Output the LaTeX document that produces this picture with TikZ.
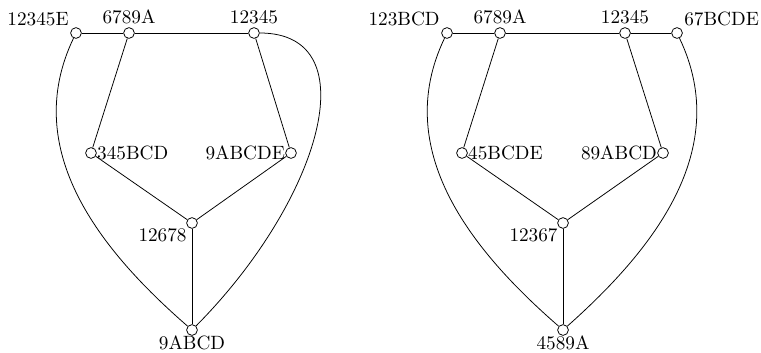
\documentclass[tikz,border=0pt]{standalone}
\usetikzlibrary{positioning}

\begin{document}
\begin{tikzpicture}[x=0.52pt, y=0.52pt, every label/.style={inner sep=1.5pt}]
    \tikzstyle{vertex}=[circle, draw, fill=white, inner sep=0pt, minimum size=5.6pt]
    \useasboundingbox (0,0) rectangle (761,352);
    % left graph
    \node[vertex, label=above left:12345E] (l1) at (76,319) {};
    \node[vertex, label=above:6789A] (l2) at (129,319) {};
    \node[vertex, label=above:12345] (l3) at (254,319) {};
    \node[vertex, label={[inner sep=0pt]right:345BCD}] (l4) at (91,199) {};
    \node[vertex, label={[inner sep=0pt]left:9ABCDE}] (l5) at (291,199) {};
    \node[vertex, label={[inner sep=0.5pt]below left:12678}] (l6) at (192,129) {};
    \node[vertex, label={[inner sep=0pt]below:9ABCD}] (l7) at (192,22) {};
    \draw (l1) -- (l2);
    \draw (l2) -- (l3);
    \draw (l2) -- (l4);
    \draw (l3) -- (l5);
    \draw (l4) -- (l6);
    \draw (l5) -- (l6);
    \draw (l6) -- (l7);
    \draw (l1) .. controls (20,202) and (100,102) .. (l7);
    \draw (l3) .. controls (370,319) and (320,151) .. (l7);
    % right graph
    \node[vertex, label=above left:123BCD] (r1) at (447,319) {};
    \node[vertex, label=above:6789A] (r2) at (500,319) {};
    \node[vertex, label=above:12345] (r3) at (625,319) {};
    \node[vertex, label=above right:67BCDE] (r4) at (677,319) {};
    \node[vertex, label={[inner sep=0pt]right:45BCDE}] (r5) at (462,199) {};
    \node[vertex, label={[inner sep=0pt]left:89ABCD}] (r6) at (663,199) {};
    \node[vertex, label={[inner sep=0.5pt]below left:12367}] (r7) at (563,129) {};
    \node[vertex, label={[inner sep=0pt]below:4589A}] (r8) at (563,22) {};
    \draw (r1) -- (r2);
    \draw (r2) -- (r3);
    \draw (r3) -- (r4);
    \draw (r2) -- (r5);
    \draw (r3) -- (r6);
    \draw (r5) -- (r7);
    \draw (r6) -- (r7);
    \draw (r7) -- (r8);
    \draw (r1) .. controls (391,202) and (471,102) .. (r8);
    \draw (r4) .. controls (733,202) and (653,102) .. (r8);
  \end{tikzpicture}
\end{document}
